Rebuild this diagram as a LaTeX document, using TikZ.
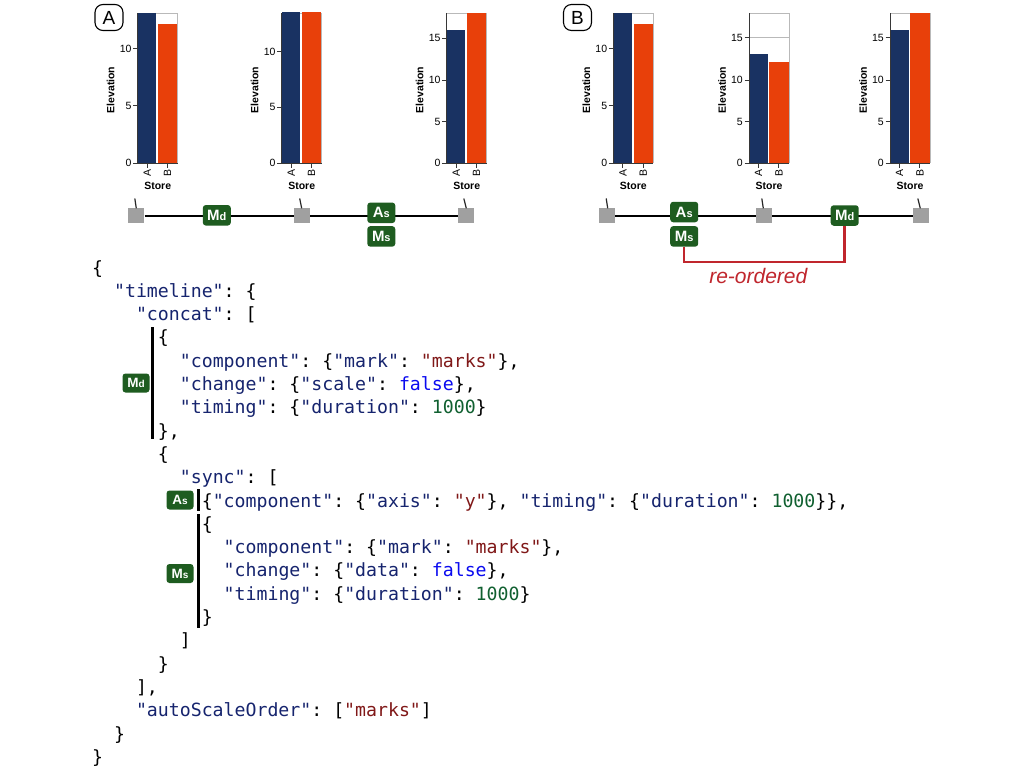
\documentclass[tikz,border=0pt]{standalone}
\usepackage{fontspec}
\setmainfont{Liberation Sans}
\newfontfamily\codefont{DejaVu Sans Mono}
\definecolor{navybar}{RGB}{25,50,98}
\definecolor{orangebar}{RGB}{232,64,10}
\definecolor{badgegreen}{RGB}{30,92,32}
\definecolor{sqgray}{RGB}{160,160,160}
\definecolor{framegray}{RGB}{185,185,185}
\definecolor{axisgray}{RGB}{55,55,55}
\definecolor{reorder}{RGB}{192,38,45}
\definecolor{jkeyc}{RGB}{22,36,110}
\definecolor{jstrc}{RGB}{128,24,24}
\definecolor{jboolc}{RGB}{10,10,240}
\definecolor{jnumc}{RGB}{16,96,48}
\newcommand\jkey[1]{\textcolor{jkeyc}{#1}}
\newcommand\jstr[1]{\textcolor{jstrc}{#1}}
\newcommand\jbool[1]{\textcolor{jboolc}{#1}}
\newcommand\jnum[1]{\textcolor{jnumc}{#1}}
\newcommand\bdg[2]{{\fontsize{15}{15}\selectfont #1}{\fontsize{11}{11}\selectfont #2}}
\newcommand\cbdg[2]{{\fontsize{13.5}{13.5}\selectfont #1}{\fontsize{10}{10}\selectfont #2}}
\tikzset{
  ticklab/.style={font=\fontsize{10.5}{10.5}\selectfont,inner sep=0,anchor=east},
  catlab/.style={font=\fontsize{10.5}{10.5}\selectfont,inner sep=0,rotate=90,anchor=east},
  axtitle/.style={font=\fontsize{10.5}{10.5}\selectfont\bfseries,inner sep=0},
  sqbox/.style={fill=sqgray,minimum width=16,minimum height=15,inner sep=0},
  badge/.style={fill=badgegreen,rounded corners=3,minimum width=28,minimum height=20.5,inner sep=0,text=white,font=\bfseries},
  cbadge/.style={fill=badgegreen,rounded corners=3,minimum width=27,minimum height=19,inner sep=0,text=white,font=\bfseries},
  panellab/.style={draw=black,line width=1.1,rounded corners=8,fill=white,minimum width=28,minimum height=26,inner sep=0,font=\fontsize{19}{19}\selectfont},
  codeline/.style={anchor=base west,inner sep=0,font=\fontsize{18.2}{18.2}\codefont\frenchspacing},
  codebar/.style={line width=2.5,black},
  tickmk/.style={line width=1.2,black!85}
}
\newcommand\mkchart[6]{%
  \draw[framegray,line width=0.8] (#2,13.3) -- ({#2+40},13.3) -- ({#2+40},163);
  #6
  \fill[navybar] ({#2+0.5},163) rectangle ({#2+18.7},#3);
  \fill[orangebar] ({#2+20.3},163) rectangle ({#2+39.5},#4);
  \draw[axisgray,line width=0.9] (#2,13.3) -- (#2,163) -- ({#2+40},163);
  \foreach \lab/\yy in {#5} {
    \draw[axisgray,line width=0.9] ({#2-4.5},\yy) -- (#2,\yy);
    \node[ticklab] (#1t\lab) at ({#2-6},\yy) {\lab};
  }
  \draw[axisgray,line width=0.9] ({#2+9.6},163) -- ({#2+9.6},167.5);
  \draw[axisgray,line width=0.9] ({#2+29.9},163) -- ({#2+29.9},167.5);
  \node[catlab] (#1ca) at ({#2+9.6},169) {A};
  \node[catlab] (#1cb) at ({#2+29.9},169) {B};
  \node[axtitle] (#1st) at ({#2+20},186) {Store};
  \node[axtitle,rotate=90] (#1el) at ({#2-27},90) {Elevation};
}
\newcommand\cl[4]{\node[codeline] (#1) at ({92+#2*10.96},{274+(#3-1)*23.3}) {#4};}
\begin{document}
\begin{tikzpicture}[x=1pt,y=-1pt]
\useasboundingbox (0,0) rectangle (1024,768);
\fill[white] (0,0) rectangle (1024,768);

% panel labels
\node[panellab] (pA) at (109,17.5) {A};
\node[panellab] (pB) at (577.5,17.5) {B};

% charts A
\mkchart{aa}{137.7}{13.3}{24.5}{0/163,5/105.5,10/48.5}{}
\mkchart{ab}{281.7}{12.3}{12.3}{0/163.3,5/107.3,10/51.7}{}
\mkchart{ac}{446.7}{30}{13.3}{0/163.3,5/121.7,10/80,15/38.3}{}
% charts B
\mkchart{ba}{613.3}{13.3}{24.5}{0/163,5/105.5,10/48.5}{}
\mkchart{bb}{749}{54}{62.3}{0/163.3,5/121.7,10/80,15/37.7}{\draw[framegray,line width=0.8] (749,37.7) -- (789,37.7);}
\mkchart{bc}{890}{30}{13.3}{0/163.3,5/121.7,10/80,15/37.7}{}

% timeline A
\node[sqbox] (a1) at (136.3,215.8) {};
\node[sqbox] (a2) at (301.7,215.8) {};
\node[sqbox] (a3) at (466.3,215.8) {};
\draw[line width=2.2,black] (a1) -- (a3);
\node[sqbox] at (a1) {};
\node[sqbox] at (a2) {};
\node[sqbox] at (a3) {};
\draw[tickmk] (134.8,198.5) -- (136.3,208.3);
\draw[tickmk] (299.7,198.5) -- (301.7,208.3);
\draw[tickmk] (463.8,198.5) -- (466.3,208.3);
\node[badge] (aMd) at (216.8,215.3) {\bdg{M}{d}};
\node[badge] (aAs) at (381.3,212.8) {\bdg{A}{s}};
\node[badge] (aMs) at (381.3,236.4) {\bdg{M}{s}};

% timeline B
\node[sqbox] (b1) at (606.7,215.8) {};
\node[sqbox] (b2) at (764.3,215.8) {};
\node[sqbox] (b3) at (921.3,215.8) {};
\draw[line width=2.2,black] (b1) -- (b3);
\node[sqbox] at (b1) {};
\node[sqbox] at (b2) {};
\node[sqbox] at (b3) {};
\draw[tickmk] (606.2,198.5) -- (607.7,208.3);
\draw[tickmk] (761.8,198.5) -- (763.3,208.3);
\draw[tickmk] (917.8,198.5) -- (920.3,208.3);
\node[badge] (bAs) at (684.2,212.0) {\bdg{A}{s}};
\node[badge] (bMs) at (684.2,236.4) {\bdg{M}{s}};
\node[badge] (bMd) at (844.7,215.5) {\bdg{M}{d}};
\draw[reorder,line width=2.5] (bMs.south) -- ++(0,15) -| (bMd.south);
\node[text=reorder,font=\fontsize{21}{21}\selectfont\itshape,inner sep=0] (reo) at (758.3,276) {re-ordered};

% code
\cl{l1}{0}{1}{\{}
\cl{l2}{2}{2}{\jkey{"timeline"}: \{}
\cl{l3}{4}{3}{\jkey{"concat"}: [}
\cl{l4}{6}{4}{\{}
\cl{l5}{8}{5}{\jkey{"component"}: \{\jkey{"mark"}: \jstr{"marks"}\},}
\cl{l6}{8}{6}{\jkey{"change"}: \{\jkey{"scale"}: \jbool{false}\},}
\cl{l7}{8}{7}{\jkey{"timing"}: \{\jkey{"duration"}: \jnum{1000}\}}
\cl{l8}{6}{8}{\},}
\cl{l9}{6}{9}{\{}
\cl{l10}{8}{10}{\jkey{"sync"}: [}
\cl{l11}{10}{11}{\{\jkey{"component"}: \{\jkey{"axis"}: \jstr{"y"}\}, \jkey{"timing"}: \{\jkey{"duration"}: \jnum{1000}\}\},}
\cl{l12}{10}{12}{\{}
\cl{l13}{12}{13}{\jkey{"component"}: \{\jkey{"mark"}: \jstr{"marks"}\},}
\cl{l14}{12}{14}{\jkey{"change"}: \{\jkey{"data"}: \jbool{false}\},}
\cl{l15}{12}{15}{\jkey{"timing"}: \{\jkey{"duration"}: \jnum{1000}\}}
\cl{l16}{10}{16}{\}}
\cl{l17}{8}{17}{]}
\cl{l18}{6}{18}{\}}
\cl{l19}{4}{19}{],}
\cl{l20}{4}{20}{\jkey{"autoScaleOrder"}: [\jstr{"marks"}]}
\cl{l21}{2}{21}{\}}
\cl{l22}{0}{22}{\}}

% code bars and badges
\draw[codebar] (152.7,327) -- (152.7,438.5);
\draw[codebar] (198.7,489) -- (198.7,511);
\draw[codebar] (198.7,514) -- (198.7,628);
\node[cbadge] (cMd) at (136,383) {\cbdg{M}{d}};
\node[cbadge] (cAs) at (180,500) {\cbdg{A}{s}};
\node[cbadge] (cMs) at (180,573.5) {\cbdg{M}{s}};
\end{tikzpicture}
\end{document}
